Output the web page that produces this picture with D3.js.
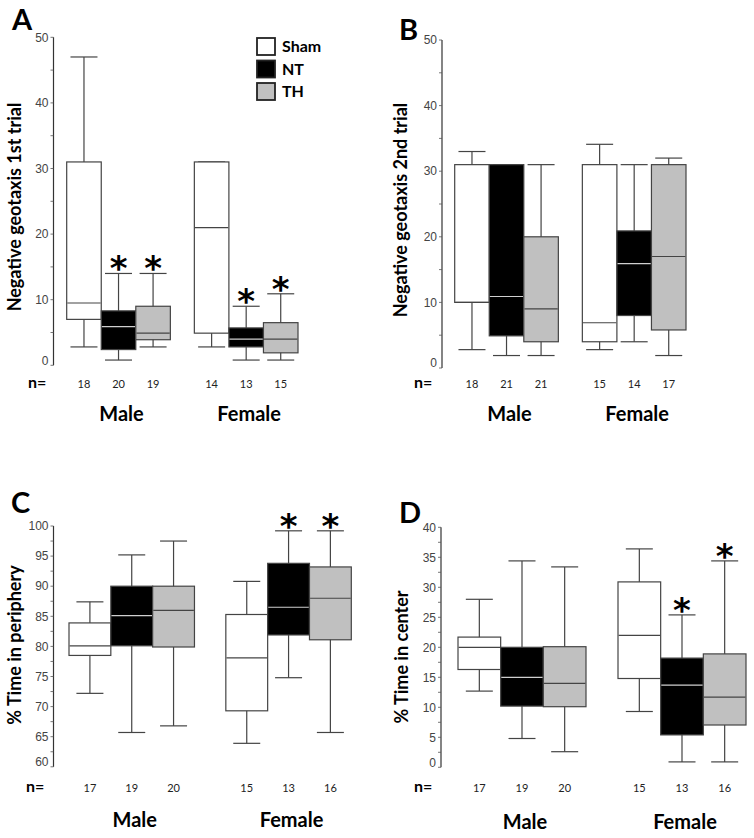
<!DOCTYPE html>
<html>
<head>
<meta charset="utf-8">
<script src="https://cdn.jsdelivr.net/npm/d3@7"></script>
<style>
  body { margin: 0; background: #fff; }
  svg { display: block; }
</style>
</head>
<body>
<div id="plot"></div>
<script>
// categories
var sexes = ["Male", "Female"];
var treatments = ["Sham", "NT", "TH"];

// box stats per box: [low whisker, Q1, median, Q3, high whisker], order Male Sham/NT/TH, Female Sham/NT/TH
var geotaxis1Stats = [
  [2.8, 7.0, 9.5, 31, 47],
  [0.8, 2.4, 5.9, 8.3, 14],
  [2.8, 3.9, 4.9, 9.0, 14],
  [2.8, 4.9, 21, 31, 31],
  [0.8, 2.8, 4.0, 5.7, 9.0],
  [0.8, 1.9, 4.0, 6.5, 10.9]
];
var geotaxis1N = [18, 20, 19, 14, 13, 15];
var geotaxis1Stars = [0, 1, 1, 0, 1, 1];

var geotaxis2Stats = [
  [2.8, 10, 10, 31, 33],
  [1.9, 4.9, 10.9, 31, 31],
  [1.9, 4.0, 9.0, 20, 31],
  [2.8, 4.0, 6.9, 31, 34.1],
  [4.0, 8.0, 15.9, 20.9, 31],
  [1.9, 5.8, 17, 31, 32]
];
var geotaxis2N = [18, 21, 21, 15, 14, 17];
var geotaxis2Stars = [0, 0, 0, 0, 0, 0];

var peripheryStats = [
  [72.2, 78.5, 80.1, 83.9, 87.4],
  [65.7, 80.1, 85.1, 90.0, 95.2],
  [66.8, 79.9, 86.0, 90.0, 97.5],
  [63.9, 69.3, 78.1, 85.3, 90.8],
  [74.8, 81.9, 86.5, 93.8, 99.2],
  [65.7, 81.1, 88.0, 93.2, 99.2]
];
var peripheryN = [17, 19, 20, 15, 13, 16];
var peripheryStars = [0, 0, 0, 0, 1, 1];

var centerStats = [
  [12.7, 16.3, 20.0, 21.7, 28.0],
  [4.8, 10.2, 15.0, 20.0, 34.4],
  [2.6, 10.1, 14.0, 20.1, 33.4],
  [9.3, 14.8, 22.0, 30.9, 36.4],
  [0.9, 5.4, 13.7, 18.2, 25.4],
  [0.9, 7.05, 11.7, 18.9, 34.4]
];
var centerN = [17, 19, 20, 15, 13, 16];
var centerStars = [0, 0, 0, 0, 1, 1];

var fillColor = { Sham: "#ffffff", NT: "#000000", TH: "#c0c0c0" };
var medianColor = { Sham: "#444", NT: "#cfcfcf", TH: "#444" };
var lineColor = "#444";
var boldFont = "Lato, 'Open Sans', sans-serif";
var tickFont = "'Liberation Sans', Arial, sans-serif";

var svg = d3.select("#plot").append("svg")
  .attr("width", 754)
  .attr("height", 838);

//one panel, layout numbers are pixels
function boxPanel(p) {
  var g = svg.append("g");

  var y = d3.scaleLinear().domain(p.yDomain).range(p.yRange);

  var x = d3.scaleBand().domain(sexes).range(p.xRange).paddingInner(p.pad);
  var xi = d3.scaleBand().domain(treatments).range([0, x.bandwidth()]);
  var bw = xi.bandwidth();

  // axis with major + minor ticks
  var major = d3.range(p.yDomain[0], p.yDomain[1] + 0.001, p.step);
  var minor = d3.range(p.yDomain[0], p.yDomain[1] + 0.001, p.step / 2);

  var ax = g.append("g").attr("transform", "translate(" + p.axisX + ",0)");
  ax.append("line")
    .attr("y1", y(p.yDomain[0])).attr("y2", y(p.yDomain[1]))
    .attr("stroke", "#333").attr("stroke-width", 1.2);
  ax.selectAll(".minor").data(minor).enter().append("line")
    .attr("x1", -3).attr("x2", 0)
    .attr("y1", d => y(d)).attr("y2", d => y(d))
    .attr("stroke", "#555").attr("stroke-width", 0.8);
  ax.selectAll(".lbl").data(major).enter().append("text")
    .attr("x", -5)
    .attr("y", d => y(d) - (d === p.yDomain[0] ? 5 : 0))
    .attr("dy", "0.35em")
    .attr("text-anchor", "end")
    .style("font-family", tickFont)
    .style("font-size", "12px")
    .style("fill", "#444")
    .text(d => d);

  // boxes
  var rows = [];
  sexes.forEach(function(s, si) {
    treatments.forEach(function(t, ti) {
      var k = si * 3 + ti;
      rows.push({ sex: s, trt: t, st: p.stats[k], n: p.n[k], star: p.stars[k] });
    });
  });
  var cx = d => x(d.sex) + xi(d.trt) + bw / 2;

  var box = g.selectAll(".box").data(rows).enter().append("g");

  box.append("line")
    .attr("x1", cx).attr("x2", cx)
    .attr("y1", d => y(d.st[0])).attr("y2", d => y(d.st[4]))
    .attr("stroke", lineColor).attr("stroke-width", 1.2);
  box.append("line")
    .attr("x1", d => cx(d) - 13.5).attr("x2", d => cx(d) + 13.5)
    .attr("y1", d => y(d.st[4])).attr("y2", d => y(d.st[4]))
    .attr("stroke", lineColor).attr("stroke-width", 1.2);
  box.append("line")
    .attr("x1", d => cx(d) - 13.5).attr("x2", d => cx(d) + 13.5)
    .attr("y1", d => y(d.st[0])).attr("y2", d => y(d.st[0]))
    .attr("stroke", lineColor).attr("stroke-width", 1.2);

  box.append("rect")
    .attr("x", d => x(d.sex) + xi(d.trt))
    .attr("width", bw)
    .attr("y", d => y(d.st[3]))
    .attr("height", d => y(d.st[1]) - y(d.st[3]))
    .attr("fill", d => fillColor[d.trt])
    .attr("stroke", lineColor).attr("stroke-width", 1.2);
  box.append("line")
    .attr("x1", d => x(d.sex) + xi(d.trt) + 0.6)
    .attr("x2", d => x(d.sex) + xi(d.trt) + bw - 0.6)
    .attr("y1", d => y(d.st[2])).attr("y2", d => y(d.st[2]))
    .attr("stroke", d => medianColor[d.trt]).attr("stroke-width", 1.2);

  // significance
  g.selectAll(".star").data(rows.filter(d => d.star)).enter().append("text")
    .attr("x", cx)
    .attr("y", d => y(d.st[4]) + 7)
    .attr("text-anchor", "middle")
    .style("font-family", "'DejaVu Sans', sans-serif")
    .style("font-weight", "bold")
    .style("font-size", "34px")
    .text("*");

  // n row
  g.append("text")
    .attr("x", p.nX).attr("y", p.nY)
    .style("font-family", boldFont).style("font-weight", "bold")
    .style("font-size", "16px")
    .text("n=");
  g.selectAll(".n").data(rows).enter().append("text")
    .attr("x", cx).attr("y", p.nY)
    .attr("text-anchor", "middle")
    .style("font-family", boldFont)
    .style("font-size", "11px")
    .style("fill", "#222")
    .text(d => d.n);

  // group names
  g.selectAll(".sex").data(sexes).enter().append("text")
    .attr("x", d => x(d) + x.bandwidth() / 2 + 3)
    .attr("y", p.sexY)
    .attr("text-anchor", "middle")
    .style("font-family", boldFont).style("font-weight", "bold")
    .style("font-size", "20px")
    .text(d => d);

  // y label
  g.append("text")
    .attr("transform", "translate(" + p.labelX + "," + p.labelY + ") rotate(-90)")
    .attr("text-anchor", "middle")
    .style("font-family", boldFont).style("font-weight", "bold")
    .style("font-size", "18px")
    .text(p.label);

  // panel letter
  g.append("text")
    .attr("x", p.letterX).attr("y", p.letterY)
    .style("font-family", boldFont).style("font-weight", "bold")
    .style("font-size", "29px")
    .text(p.letter);

  return g;
}

boxPanel({
  stats: geotaxis1Stats, n: geotaxis1N, stars: geotaxis1Stars,
  yDomain: [0, 50], yRange: [365.3, 37.3], step: 10,
  axisX: 53.5, xRange: [66.7, 298], pad: 0.188,
  nX: 28, nY: 388, sexY: 421,
  label: "Negative geotaxis 1st trial", labelX: 21, labelY: 207,
  letter: "A", letterX: 12, letterY: 30
});

boxPanel({
  stats: geotaxis2Stats, n: geotaxis2N, stars: geotaxis2Stars,
  yDomain: [0, 50], yRange: [368, 40], step: 10,
  axisX: 442, xRange: [454.7, 686], pad: 0.188,
  nX: 414, nY: 388, sexY: 421,
  label: "Negative geotaxis 2nd trial", labelX: 407, labelY: 210,
  letter: "B", letterX: 399, letterY: 40
});

boxPanel({
  stats: peripheryStats, n: peripheryN, stars: peripheryStars,
  yDomain: [60, 100], yRange: [766.8, 526], step: 5,
  axisX: 53.5, xRange: [69, 351.3], pad: 0.2,
  nX: 26, nY: 792, sexY: 827,
  label: "% Time in periphery", labelX: 21, labelY: 645,
  letter: "C", letterX: 11, letterY: 513
});

boxPanel({
  stats: centerStats, n: centerN, stars: centerStars,
  yDomain: [0, 40], yRange: [767.3, 527.3], step: 5,
  axisX: 441, xRange: [458, 746], pad: 0.2,
  nX: 414, nY: 792, sexY: 829,
  label: "% Time in center", labelX: 408, labelY: 657,
  letter: "D", letterX: 399, letterY: 523
});

// legend (panel A)
var legend = svg.append("g").attr("transform", "translate(257,38)");
legend.selectAll("rect").data(treatments).enter().append("rect")
  .attr("x", 0).attr("y", (d, i) => i * 22.5)
  .attr("width", 18).attr("height", 17)
  .attr("fill", d => fillColor[d])
  .attr("stroke", "#222").attr("stroke-width", 1.8);
legend.selectAll("text").data(treatments).enter().append("text")
  .attr("x", 25).attr("y", (d, i) => i * 22.5 + 14)
  .style("font-family", boldFont).style("font-weight", "bold")
  .style("font-size", "16px")
  .text(d => d);
</script>
</body>
</html>
